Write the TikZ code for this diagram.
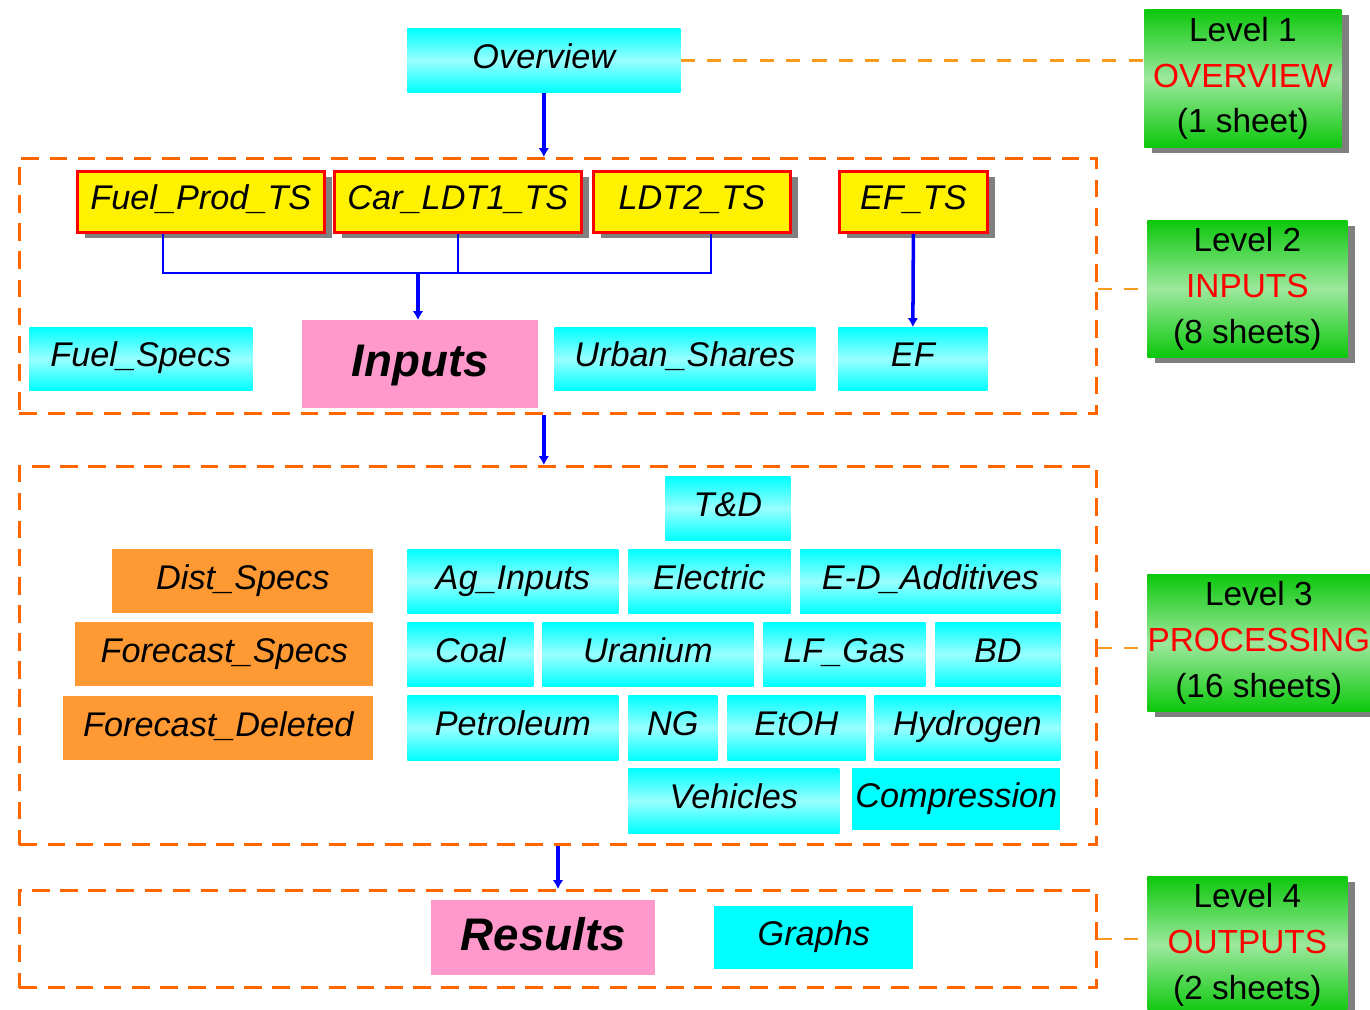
\documentclass[tikz,border=0pt]{standalone}
\usepackage{fontspec}
\setmainfont{Liberation Sans}
\usetikzlibrary{shadows,arrows.meta}

\definecolor{aqua}{HTML}{00FFFF}
\definecolor{paleaqua}{HTML}{99FFFF}
\definecolor{sheetgreen}{HTML}{0CC80C}
\definecolor{palegreen}{HTML}{9CE89C}
\definecolor{dashorange}{HTML}{FF6600}
\definecolor{linkorange}{HTML}{F79A1E}
\definecolor{specorange}{HTML}{FF9933}
\definecolor{resultpink}{HTML}{FF99CC}

\begin{document}
\begin{tikzpicture}[x=0.02cm,y=-0.02cm]
    \tikzstyle{box}=[anchor=north west,inner sep=0pt,text height=14pt,text depth=5pt,font=\fontsize{19.5}{26}\selectfont\itshape]
    \tikzstyle{sheet}=[box,top color=aqua,bottom color=aqua,middle color=paleaqua]
    \tikzstyle{flat}=[box,fill=aqua]
    \tikzstyle{spec}=[box,fill=specorange]
    \tikzstyle{series}=[box,fill=yellow,draw=red,line width=1.6pt,drop shadow={shadow xshift=0.16cm,shadow yshift=-0.12cm,fill=gray,opacity=1}]
    \tikzstyle{main}=[box,fill=resultpink,text height=20pt,text depth=6pt,font=\fontsize{26}{30}\selectfont\bfseries\itshape]
    \tikzstyle{tier}=[anchor=north west,inner sep=0pt,align=center,font=\fontsize{19}{26}\selectfont,top color=sheetgreen,bottom color=sheetgreen,middle color=palegreen,drop shadow={shadow xshift=0.16cm,shadow yshift=-0.12cm,fill=gray,opacity=1}]
    \tikzstyle{region}=[anchor=north west,inner sep=0pt,draw=dashorange,line width=1.7pt,dash pattern=on 10pt off 6pt]
    \tikzstyle{link}=[draw=linkorange,line width=1.5pt,dash pattern=on 8pt off 7pt]
    \tikzstyle{flow}=[blue,line width=2pt,-{Latex[length=5pt,width=6pt]}]
    \tikzstyle{bus}=[blue,line width=1.2pt]

    \clip (0,0) rectangle (1370,1009);

    % dashed frames round the three lower levels
    \node[region,minimum width=1077*0.02cm,minimum height=255*0.02cm] (r2) at (18,157) {};
    \node[region,minimum width=1077*0.02cm,minimum height=378*0.02cm] (r3) at (18,465) {};
    \node[region,minimum width=1077*0.02cm,minimum height=97*0.02cm] (r4) at (18,889) {};

    % worksheets
    \foreach \name/\x/\y/\w/\h/\txt in {ov/407/28/273/64/Overview,
            fs/29/327/223/63/Fuel\_Specs, us/554/327/261/63/Urban\_Shares, ef/838/327/149/63/EF,
            td/665/476/125/64/T\&D,
            ag/407/549/211/64/Ag\_Inputs, el/628/549/162/64/Electric, ed/800/549/260/64/E-D\_Additives,
            coal/407/622/126/64/Coal, ur/542/622/211/64/Uranium, lf/763/622/162/64/LF\_Gas, bd/935/622/125/64/BD,
            pet/407/695/211/65/Petroleum, ng/628/695/89/65/NG, et/727/695/138/65/EtOH, hy/874/695/186/65/Hydrogen,
            veh/628/768/211/65/Vehicles}
        \node[sheet,minimum width=\w*0.02cm,minimum height=\h*0.02cm] (\name) at (\x,\y) {\txt};

    \node[flat,minimum width=208*0.02cm,minimum height=62*0.02cm] (comp) at (852,768) {Compression};
    \node[flat,minimum width=199*0.02cm,minimum height=63*0.02cm] (gr) at (714,906) {Graphs};

    \foreach \name/\x/\y/\w/\txt in {ds/112/549/261/Dist\_Specs, fcs/75/622/298/Forecast\_Specs, fcd/63/696/310/Forecast\_Deleted}
        \node[spec,minimum width=\w*0.02cm,minimum height=64*0.02cm] (\name) at (\x,\y) {\txt};

    \foreach \name/\x/\w/\txt in {fp/76/247/Fuel\_Prod\_TS, car/333/247/Car\_LDT1\_TS, lt/592/197/LDT2\_TS, eft/838/148/EF\_TS}
        \node[series,minimum width=\w*0.02cm,minimum height=61*0.02cm] (\name) at (\x,170) {\txt};

    \node[main,minimum width=236*0.02cm,minimum height=88*0.02cm] (inp) at (302,320) {Inputs};
    \node[main,minimum width=224*0.02cm,minimum height=75*0.02cm] (res) at (431,900) {Results};

    % level labels
    \node[tier,minimum width=197*0.02cm,minimum height=138*0.02cm] (l1) at (1144,9) {Level 1\\\textcolor{red}{OVERVIEW}\\(1 sheet)};
    \node[tier,minimum width=200*0.02cm,minimum height=137*0.02cm] (l2) at (1147,220) {Level 2\\\textcolor{red}{INPUTS}\\(8 sheets)};
    \node[tier,minimum width=223*0.02cm,minimum height=137*0.02cm] (l3) at (1147,574) {Level 3\\\textcolor{red}{PROCESSING}\\(16 sheets)};
    \node[tier,minimum width=200*0.02cm,minimum height=137*0.02cm] (l4) at (1147,876) {Level 4\\\textcolor{red}{OUTPUTS}\\(2 sheets)};

    \draw[link] (ov.east) -- (ov.east -| l1.west);
    \draw[link] (l2.west -| r2.east) -- (l2.west);
    \draw[link] ([yshift=-0.1cm]l3.west -| r3.east) -- ([yshift=-0.1cm]l3.west);
    \draw[link] (r4.east) -- (r4.east -| l4.west);

    % time series feed the inputs sheet
    \coordinate (join) at (418,273);
    \draw[bus] ([xshift=-0.75cm]fp.south) |- (join) -| ([xshift=0.39cm]lt.south);
    \draw[bus] (car.south) -- (car.south |- join);
    \draw[flow] (join) -- (join |- inp.north);
    \draw[flow] (eft.south) -- (ef.north);

    \draw[flow] (ov.south) -- (ov.south |- r2.north);
    \draw[flow] (r2.south -| ov.south) -- (r3.north -| ov.south);
    \draw[flow] (r3.south) -- (r4.north);
\end{tikzpicture}
\end{document}
